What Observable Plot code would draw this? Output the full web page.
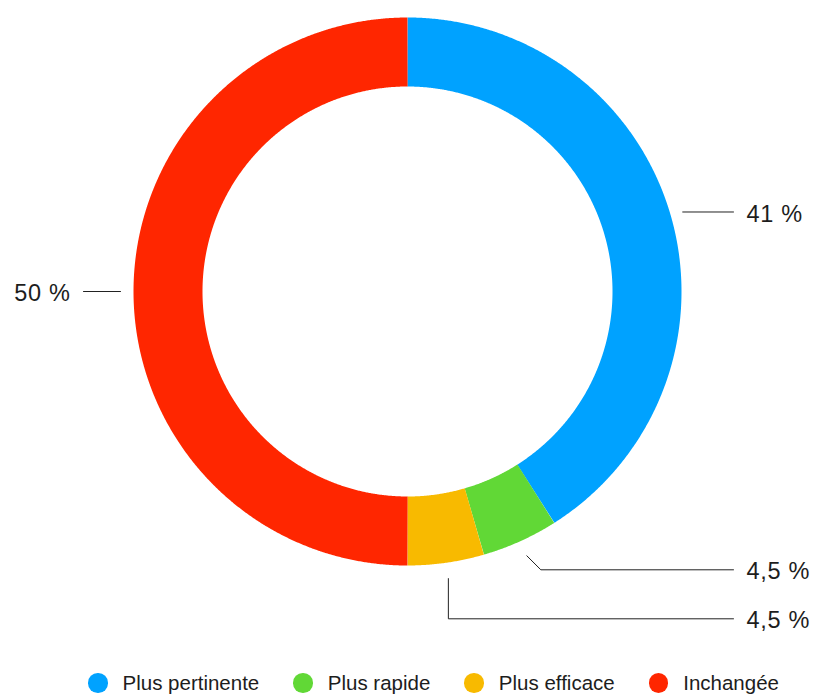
<!DOCTYPE html>
<html><head><meta charset="utf-8">
<script src="https://cdn.jsdelivr.net/npm/d3@7"></script>
<script src="https://cdn.jsdelivr.net/npm/@observablehq/plot@0.6"></script>
<style>
body{margin:0;background:#fff;font-family:"Liberation Sans",Arial,Helvetica,sans-serif;}
#chart svg text{letter-spacing:0.7px;}
#legend{display:flex;align-items:center;height:46px;padding-left:88px;font-size:20.5px;color:#1d1d1d;white-space:nowrap;}
.item{display:flex;align-items:center;margin-right:34px}
.sw{width:19.5px;height:19.5px;border-radius:50%;margin-right:15px;flex:none}
</style></head><body><div id="chart"></div><div id="legend"></div>
<script>
// ---- data ----
const categories = ["Plus pertinente", "Plus rapide", "Plus efficace", "Inchangée"];
const values = [41, 4.5, 4.5, 50];
const colors = ["#00A2FF", "#61D836", "#F8BA00", "#FF2600"];

// ---- layout ----
const W = 813, H = 660, cx = 407, cy = 291;
const rOuter = 274, rInner = 205, rMid = (rOuter + rInner) / 2, thick = rOuter - rInner;

const fmt = v => String(v).replace(".", ",") + "\u00a0%";
const pie = d3.pie().sort(null).value(d => d)(values);

// ring slices as thick arcs along the mid radius (butt caps are radial)
const arcPts = pie.flatMap((p, i) => {
  const n = Math.max(2, Math.ceil((p.endAngle - p.startAngle) / (Math.PI / 720)));
  return d3.range(n + 1).map(k => {
    const a = p.startAngle + (p.endAngle - p.startAngle) * k / n;
    return {cat: categories[i], x: rMid * Math.sin(a), y: -rMid * Math.cos(a)};
  });
});

// leaders and labels
const leaders = [], labR = [], labL = [];
const colRight = 326, colLeft = -324, textGap = 13;
let bottomY = null;
pie.forEach((p, i) => {
  const m = (p.startAngle + p.endAngle) / 2;
  const s = Math.sin(m), c = Math.cos(m);
  if (c < -0.85) {
    // bottom slices: elbow leaders stacked on the right
    const sx = 290 * s, sy = -290 * c;
    let ly, ex;
    if (bottomY === null) { ly = sy + 14; ex = sx + 14; }
    else { ly = bottomY + 49; ex = sx; }
    bottomY = ly;
    leaders.push({id: i, x: sx, y: sy}, {id: i, x: ex, y: ly}, {id: i, x: colRight, y: ly});
    labR.push({x: colRight + textGap, y: ly, t: fmt(values[i])});
  } else {
    const ly = -285 * c;
    const sign = s >= 0 ? 1 : -1;
    const x0 = sign * (Math.sqrt(rOuter * rOuter - ly * ly) + 13);
    const x1 = sign > 0 ? colRight : colLeft;
    leaders.push({id: i, x: x0, y: ly}, {id: i, x: x1, y: ly});
    (sign > 0 ? labR : labL).push({x: x1 + sign * textGap, y: ly, t: fmt(values[i])});
  }
});

const font = "Liberation Sans, Arial, Helvetica, sans-serif";
const chart = Plot.plot({
  width: W, height: H,
  margin: 0,
  x: {domain: [-cx, W - cx], range: [0, W], axis: null},
  y: {domain: [-cy, H - cy], range: [0, H], axis: null},
  color: {domain: categories, range: colors},
  style: {background: "#fff"},
  marks: [
    Plot.line(arcPts, {x: "x", y: "y", z: "cat", stroke: "cat", strokeWidth: thick, strokeLinecap: "butt", strokeLinejoin: "round"}),
    Plot.line(leaders, {x: "x", y: "y", z: "id", stroke: "#222", strokeWidth: 1}),
    Plot.text(labR, {x: "x", y: "y", text: "t", textAnchor: "start", fontSize: 23.5, dy: 2, fill: "#1d1d1d", fontFamily: font}),
    Plot.text(labL, {x: "x", y: "y", text: "t", textAnchor: "end", fontSize: 23.5, dy: 2, fill: "#1d1d1d", fontFamily: font})
  ]
});
document.getElementById("chart").appendChild(chart);

const leg = d3.select("#legend");
categories.forEach((c, i) => {
  const it = leg.append("div").attr("class", "item");
  it.append("div").attr("class", "sw").style("background", colors[i]);
  it.append("span").text(c);
});
</script>
</body></html>
